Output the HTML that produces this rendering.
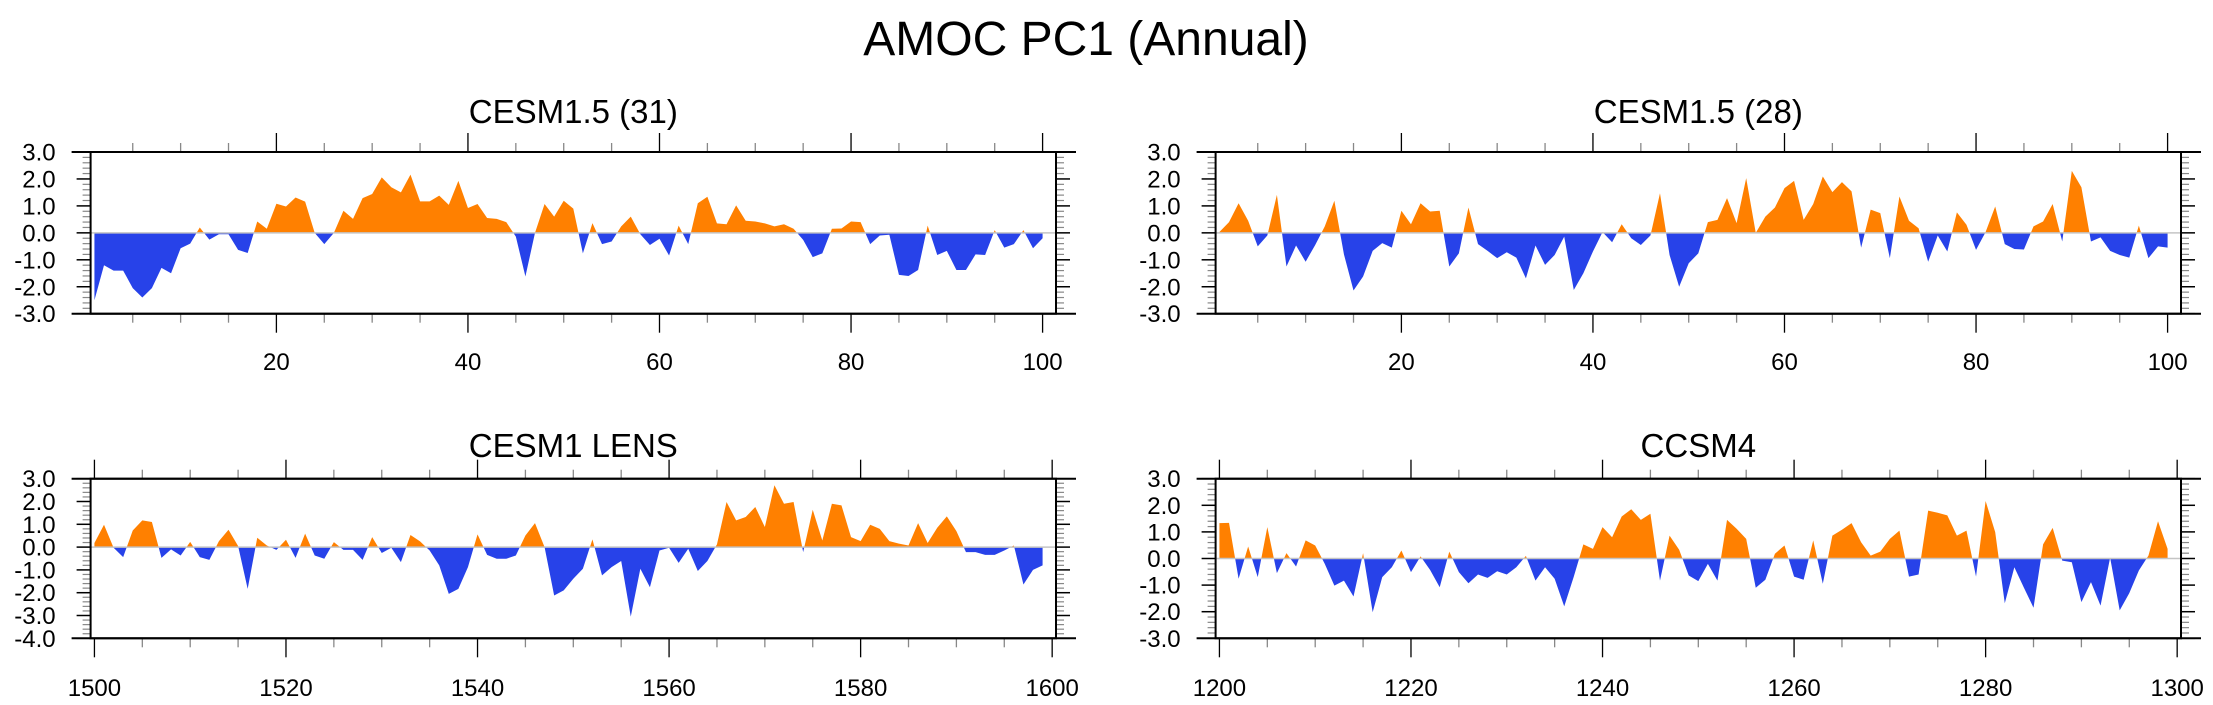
<!DOCTYPE html>
<html><head><meta charset="utf-8"><style>
html,body{margin:0;padding:0;background:#fff;}
svg{display:block;font-family:"Liberation Sans",sans-serif;}
</style></head><body>
<svg id="chart" width="2213" height="705" viewBox="0 0 2213 705" xmlns="http://www.w3.org/2000/svg">
<text x="1086" y="55" font-size="48" text-anchor="middle" fill="#000">AMOC PC1 (Annual)</text>
</svg>
<script>
const p1Values=[-2.5,-1.2,-1.4,-1.4,-2.05,-2.4,-2.05,-1.3,-1.5,-0.57,-0.4,0.2,-0.25,-0.05,-0.05,-0.63,-0.75,0.42,0.15,1.08,0.98,1.31,1.16,0.0,-0.42,0.0,0.82,0.52,1.29,1.44,2.06,1.69,1.5,2.16,1.17,1.17,1.38,1.04,1.93,0.92,1.07,0.55,0.52,0.4,-0.14,-1.62,0.0,1.07,0.6,1.19,0.9,-0.76,0.36,-0.42,-0.32,0.24,0.6,-0.05,-0.45,-0.22,-0.84,0.27,-0.42,1.1,1.34,0.35,0.32,1.02,0.45,0.42,0.35,0.24,0.32,0.15,-0.26,-0.9,-0.76,0.15,0.16,0.42,0.4,-0.42,-0.1,-0.07,-1.56,-1.6,-1.38,0.27,-0.82,-0.67,-1.38,-1.38,-0.8,-0.82,0.1,-0.55,-0.42,0.1,-0.57,-0.2];
const p2Values=[0.03,0.4,1.1,0.45,-0.5,-0.1,1.41,-1.25,-0.47,-1.07,-0.45,0.24,1.19,-0.8,-2.14,-1.62,-0.67,-0.38,-0.55,0.82,0.32,1.1,0.79,0.82,-1.25,-0.76,0.94,-0.42,-0.67,-0.94,-0.72,-0.92,-1.69,-0.47,-1.19,-0.82,-0.14,-2.12,-1.5,-0.69,0.03,-0.35,0.32,-0.2,-0.45,-0.1,1.47,-0.82,-2.0,-1.13,-0.76,0.4,0.48,1.29,0.36,2.03,0.0,0.6,0.94,1.66,1.93,0.48,1.07,2.09,1.51,1.88,1.54,-0.55,0.86,0.73,-0.94,1.35,0.45,0.17,-1.07,-0.1,-0.69,0.76,0.3,-0.63,0.03,0.98,-0.42,-0.6,-0.62,0.24,0.42,1.07,-0.32,2.3,1.69,-0.32,-0.17,-0.67,-0.82,-0.92,0.27,-0.94,-0.5,-0.55];
const p3Values=[0.18,0.98,-0.03,-0.44,0.73,1.17,1.1,-0.47,-0.1,-0.37,0.23,-0.44,-0.56,0.26,0.76,0.05,-1.83,0.41,0.07,-0.12,0.32,-0.47,0.59,-0.37,-0.51,0.22,-0.12,-0.12,-0.56,0.44,-0.26,-0.03,-0.66,0.53,0.25,-0.15,-0.8,-2.05,-1.83,-0.88,0.56,-0.34,-0.51,-0.51,-0.37,0.51,1.05,0.0,-2.12,-1.9,-1.39,-0.95,0.34,-1.24,-0.88,-0.61,-3.05,-0.95,-1.76,-0.15,-0.03,-0.69,-0.07,-1.05,-0.61,0.12,1.98,1.17,1.32,1.76,0.88,2.71,1.9,1.98,-0.22,1.64,0.29,1.9,1.83,0.44,0.26,0.98,0.8,0.26,0.15,0.07,1.05,0.18,0.85,1.35,0.7,-0.22,-0.22,-0.34,-0.34,-0.15,0.07,-1.64,-1.0,-0.8];
const p4Values=[1.33,1.34,-0.76,0.45,-0.7,1.18,-0.55,0.2,-0.3,0.68,0.49,-0.2,-1.02,-0.83,-1.43,0.2,-2.02,-0.7,-0.33,0.3,-0.51,0.08,-0.43,-1.08,0.26,-0.51,-0.93,-0.6,-0.73,-0.48,-0.6,-0.33,0.1,-0.83,-0.33,-0.76,-1.8,-0.68,0.53,0.36,1.18,0.8,1.58,1.85,1.45,1.68,-0.83,0.86,0.33,-0.64,-0.85,-0.2,-0.83,1.45,1.12,0.74,-1.1,-0.8,0.18,0.49,-0.68,-0.8,0.68,-0.95,0.86,1.08,1.33,0.61,0.11,0.26,0.74,1.05,-0.68,-0.6,1.8,1.72,1.62,0.86,1.05,-0.68,2.16,0.99,-1.68,-0.33,-1.1,-1.85,0.53,1.15,-0.08,-0.14,-1.64,-0.89,-1.77,0.03,-1.95,-1.3,-0.45,0.11,1.4,0.36];
const p1Start=1, p2Start=1, p3Start=1500, p4Start=1200;
const topXTickLabels=[20,40,60,80,100];
const p3XTickLabels=[1500,1520,1540,1560,1580,1600];
const p4XTickLabels=[1200,1220,1240,1260,1280,1300];
const panelTitles=["CESM1.5 (31)","CESM1.5 (28)","CESM1 LENS","CCSM4"];

const NS="http://www.w3.org/2000/svg";
const svg=document.getElementById('chart');
function mk(tag,attrs,parent){const e=document.createElementNS(NS,tag);for(const k in attrs)e.setAttribute(k,attrs[k]);(parent||svg).appendChild(e);return e;}

function panel(id,title,vals,start,left,top,right,bottom,xmin,xmax,ymin,ymax,labels,labelY,titleY){
  const g=mk('g',{});
  
  
  const xs=v=>left+(v-xmin)/(xmax-xmin)*(right-left);
  const ys=v=>top+(ymax-v)/(ymax-ymin)*(bottom-top);
  const y0=ys(0);
  let pts=xs(start).toFixed(2)+','+y0.toFixed(2);
  vals.forEach((v,i)=>{pts+=' '+xs(start+i).toFixed(2)+','+ys(v).toFixed(2);});
  pts+=' '+xs(start+vals.length-1).toFixed(2)+','+y0.toFixed(2);
  const cpA=mk('clipPath',{id:id+'-above'},g);mk('rect',{x:left,y:top,width:right-left,height:y0-top},cpA);
  const cpB=mk('clipPath',{id:id+'-below'},g);mk('rect',{x:left,y:y0,width:right-left,height:bottom-y0},cpB);
  const pos=mk('polygon',{points:pts,fill:'#ff8000','clip-path':'url(#'+id+'-above)'},g);
  
  
  const neg=mk('polygon',{points:pts,fill:'#2742e9','clip-path':'url(#'+id+'-below)'},g);
  
  
  const zl=mk('line',{x1:left,x2:right,y1:y0,y2:y0,stroke:'#c4c4c4','stroke-width':1.5},g);
  
  
  // y ticks
  for(let k=Math.round(ymin*5);k<=Math.round(ymax*5);k++){
    const v=k/5,y=ys(v),major=(k%5===0),len=major?14:8;
    mk('line',{x1:left-len,x2:left,y1:y,y2:y,stroke:major?'#000':'#888','stroke-width':major?1.5:1.2},g);
    mk('line',{x1:right,x2:right+len,y1:y,y2:y,stroke:major?'#000':'#888','stroke-width':major?1.5:1.2},g);
    if(major){
      const t=mk('text',{x:left-35,y:y+8.5,'font-size':24,'text-anchor':'end',fill:'#000'},g);
      t.textContent=v.toFixed(1);
      
      
    }
  }
  // x ticks
  for(let v=Math.ceil(xmin/5)*5;v<=xmax;v+=5){
    const x=xs(v),major=(v%20===0),len=major?19:9;
    mk('line',{x1:x,x2:x,y1:top-len,y2:top,stroke:major?'#000':'#888','stroke-width':1.3},g);
    mk('line',{x1:x,x2:x,y1:bottom,y2:bottom+len,stroke:major?'#000':'#888','stroke-width':1.3},g);
  }
  labels.forEach(v=>{
    const t=mk('text',{x:xs(v),y:labelY,'font-size':24,'text-anchor':'middle',fill:'#000'},g);
    t.textContent=v;
    
    
  });
  // frame
  const fr=mk('rect',{x:left,y:top,width:right-left,height:bottom-top,fill:'none',stroke:'#000','stroke-width':2},g);
  
  
  mk('line',{x1:left-19,x2:right+20,y1:top,y2:top,stroke:'#000','stroke-width':2},g);
  mk('line',{x1:left-19,x2:right+20,y1:bottom,y2:bottom,stroke:'#000','stroke-width':2},g);
  const tt=mk('text',{x:(left+right)/2,y:titleY,'font-size':33,'text-anchor':'middle',fill:'#000'},g);
  tt.textContent=title;
  
  
}
panel('panel-cesm15-31',panelTitles[0],p1Values,p1Start,90.6,152,1056,313.7,0.6,101.4,-3,3,topXTickLabels,370,123);
panel('panel-cesm15-28',panelTitles[1],p2Values,p2Start,1215.6,152,2181,313.7,0.6,101.4,-3,3,topXTickLabels,370,123);
panel('panel-cesm1-lens',panelTitles[2],p3Values,p3Start,90.6,478.7,1056,638.3,1499.6,1600.4,-4,3,p3XTickLabels,696,457);
panel('panel-ccsm4',panelTitles[3],p4Values,p4Start,1215.6,478.7,2181,638.3,1199.6,1300.4,-3,3,p4XTickLabels,696,457);
</script>
</body></html>
